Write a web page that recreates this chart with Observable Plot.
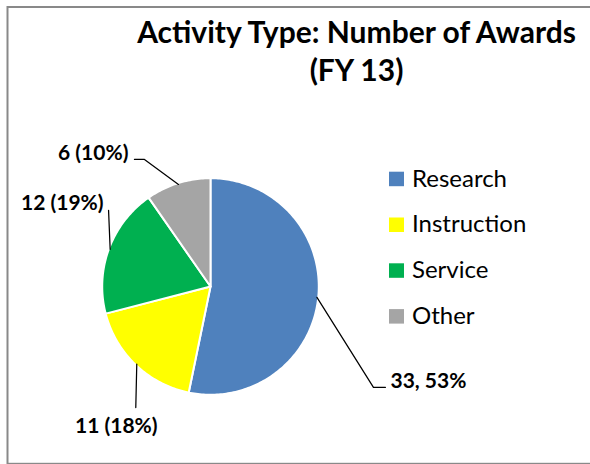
<!DOCTYPE html>
<html><head><meta charset="utf-8">
<script src="https://cdn.jsdelivr.net/npm/d3@7"></script>
<script src="https://cdn.jsdelivr.net/npm/@observablehq/plot@0.6"></script>
<style>html,body{margin:0;padding:0;background:#fff;} #chart{width:590px;height:464px;overflow:hidden}</style>
</head><body><div id="chart"></div>
<script>
// ---- data ----
const categories = ["Research", "Instruction", "Service", "Other"];
const awards = [33, 11, 12, 6];
const labels = ["33, 53%", "11 (18%)", "12 (19%)", "6 (10%)"];
const colors = ["#4F81BD", "#FFFF00", "#00B050", "#A5A5A5"];
const titleLines = ["Activity Type: Number of Awards", "(FY 13)"];

// ---- layout (pixels) ----
const W = 590, H = 464, CX = 210, CY = 286, R = 107;
const PIE_SCALE = 1.012; // compensates the white outline
const ux = px => (px - CX) / R;
const uy = py => (CY - py) / R;
// leader / label offsets relative to each slice's arc midpoint, in pixels
const labelLayout = {
  Research:    {path: [[56.5, 90], [68.5, 90]], text: [73.5, 91], anchor: "start"},
  Instruction: {path: [[-1, 43.5]], text: [-20.5, 68.5], anchor: "middle"},
  Service:     {path: [[-1.6, -39]], text: [-6.6, -39], anchor: "end"},
  Other:       {path: [[-34, -25], [-44, -25]], text: [-50, -24], anchor: "end"}
};

// ---- derived geometry ----
const arcs = d3.pie().sort(null).value(d => d)(awards);
const slices = arcs.map((p, i) => ({cat: categories[i], label: labels[i], a0: p.startAngle, a1: p.endAngle, mid: (p.startAngle + p.endAngle) / 2}));

const slicePts = slices.flatMap(s => {
  const n = Math.max(2, Math.ceil((s.a1 - s.a0) / (Math.PI / 180)));
  const pts = [{cat: s.cat, x: 0, y: 0}];
  for (let k = 0; k <= n; k++) {
    const a = s.a0 + (s.a1 - s.a0) * k / n;
    pts.push({cat: s.cat, x: PIE_SCALE * Math.sin(a), y: PIE_SCALE * Math.cos(a)});
  }
  return pts;
});

const leaderPts = [];
const labelRows = [];
slices.forEach(s => {
  const mx = Math.sin(s.mid), my = Math.cos(s.mid);
  const L = labelLayout[s.cat];
  leaderPts.push({cat: s.cat, x: mx, y: my});
  L.path.forEach(([dx, dy]) => leaderPts.push({cat: s.cat, x: mx + dx / R, y: my - dy / R}));
  labelRows.push({cat: s.cat, text: s.label, anchor: L.anchor, x: mx + L.text[0] / R, y: my - L.text[1] / R});
});

const legendRows = categories.map((c, i) => ({
  cat: c,
  x1: ux(389), x2: ux(404),
  y1: uy(171.7 + i * 45.8), y2: uy(186.2 + i * 45.8),
  tx: ux(411.5), ty: uy(186 + i * 45.8)
}));

const titleRows = titleLines.map((t, i) => ({text: t, x: ux(356), y: uy(42.7 + i * 37.8)}));

const textOpts = (anchor) => ({x: "x", y: "y", text: "text", textAnchor: anchor, lineAnchor: "bottom",
  fontSize: 21, fontWeight: "bold", fill: "black"});

const chart = Plot.plot({
  width: W, height: H, margin: 0,
  x: {domain: [ux(0), ux(W)], axis: null},
  y: {domain: [uy(H), uy(0)], axis: null},
  color: {domain: categories, range: colors},
  style: {fontFamily: "Lato, 'Open Sans', sans-serif", background: "#fff", color: "#000"},
  marks: [
    Plot.frame({stroke: "#898989", strokeWidth: 2, insetLeft: 7, insetTop: 6.5, insetBottom: 0.7, insetRight: -5}),
    Plot.line(slicePts, {x: "x", y: "y", z: "cat", fill: "cat", stroke: "white", strokeWidth: 2, strokeLinejoin: "round", curve: "linear-closed"}),
    Plot.line(leaderPts, {x: "x", y: "y", z: "cat", stroke: "black", strokeWidth: 1.25}),
    Plot.text(labelRows.filter(d => d.anchor === "start"), textOpts("start")),
    Plot.text(labelRows.filter(d => d.anchor === "middle"), textOpts("middle")),
    Plot.text(labelRows.filter(d => d.anchor === "end"), textOpts("end")),
    Plot.rect(legendRows, {x1: "x1", x2: "x2", y1: "y1", y2: "y2", fill: "cat"}),
    Plot.text(legendRows, {x: "tx", y: "ty", text: "cat", textAnchor: "start", lineAnchor: "bottom", fontSize: 24, fill: "black"}),
    Plot.text(titleRows, {x: "x", y: "y", text: "text", textAnchor: "middle", lineAnchor: "bottom", fontSize: 30, fontWeight: "bold", fill: "black"})
  ]
});
document.getElementById("chart").appendChild(chart);
</script>
</body></html>
